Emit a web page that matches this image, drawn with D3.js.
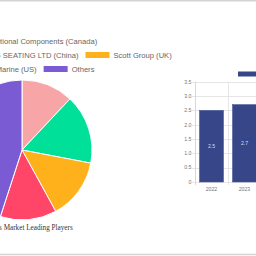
<!DOCTYPE html>
<html><head><meta charset="utf-8">
<script src="https://cdn.jsdelivr.net/npm/d3@7"></script>
<style>html,body{margin:0;padding:0;background:#fff;overflow:hidden}</style>
</head><body>
<svg id="c" width="256" height="256"></svg>
<script>
const playerNames = ["RCI Optional Components (Canada)", "GUANGZHOU HENGSHENG SEATING LTD (China)", "Scott Group (UK)", "Taco Marine (US)", "Others"];
const playerShares = [12, 16, 14, 13, 45];
const playerColors = ["#F8A5A7", "#00E098", "#FFB11C", "#FF4568", "#7A5BD3"];
const pieTitle = "Boat Seats Market Leading Players";

const years = ["2022", "2023"];
const marketValues = [2.5, 2.7];
const yTicks = [0, 0.5, 1.0, 1.5, 2.0, 2.5, 3.0, 3.5];
const barLegendLabel = "Market Size (Billion USD)";

const svg = d3.select("#c");
const W = 256, H = 256;

// page borders
svg.append("line").attr("x1",0).attr("x2",W).attr("y1",0.5).attr("y2",0.5).attr("stroke","#d4d4d4").attr("stroke-width",2);
svg.append("line").attr("x1",0).attr("x2",W).attr("y1",254.5).attr("y2",254.5).attr("stroke","#d4d4d4").attr("stroke-width",1.5);

// ---- Pie ----
const cx = 22, cy = 150, R = 70;
const pie = d3.pie().sort(null).value(d => d)(playerShares);
const arc = d3.arc().innerRadius(0).outerRadius(R);
const pg = svg.append("g").attr("transform", `translate(${cx},${cy})`);
pg.selectAll("path").data(pie).join("path")
  .attr("d", arc).attr("fill", (d,i) => playerColors[i])
  .attr("stroke", "#fff").attr("stroke-width", 1);

// legend (centered rows)
const rows = [[0],[1,2],[3,4]];
const rowY = [41, 55, 69];
const sw = 24, sh = 6, gap = 4, itemPad = 7;
const lg = svg.append("g");
rows.forEach((row, ri) => {
  const g = lg.append("g");
  let x = 0;
  row.forEach(i => {
    g.append("rect").attr("x", x).attr("y", rowY[ri]-sh/2).attr("width", sw).attr("height", sh).attr("fill", playerColors[i]);
    const t = g.append("text").attr("x", x+sw+gap).attr("y", rowY[ri]).attr("dy","0.35em")
      .attr("font-family","Liberation Sans, Arial, sans-serif").attr("font-size", 7.6).attr("fill","#666").text(playerNames[i]);
    x += sw + gap + t.node().getComputedTextLength() + itemPad;
  });
  const wRow = x - itemPad;
  g.attr("transform", `translate(${cx - wRow/2},0)`);
});

svg.append("text").attr("x", cx).attr("y", 227).attr("dy","0.35em").attr("text-anchor","middle")
  .attr("font-family","Liberation Serif, Times New Roman, serif").attr("font-size", 7.2).attr("fill","#333")
  .text(pieTitle);

// ---- Bar chart ----
const x0 = 195, yBase = 182, yTop = 81.7, step = 33;
const y = d3.scaleLinear().domain([0, 3.5]).range([yBase, yTop]);
const x = d3.scaleBand().domain(years).range([x0, x0 + step*years.length]).paddingInner(9/33).paddingOuter(4.5/33);

const grid = svg.append("g");
grid.selectAll("line.h").data(yTicks).join("line").attr("class","h")
  .attr("x1", x0-3).attr("x2", W).attr("y1", d => Math.round(y(d))+0.5).attr("y2", d => Math.round(y(d))+0.5)
  .attr("stroke","#e6e6e6").attr("stroke-width",1);
const vLines = [0, ...years.map((d,i)=>i+1)];
grid.selectAll("line.v").data(vLines).join("line").attr("class","v")
  .attr("x1", d => x0 + d*step + 0.5).attr("x2", d => x0 + d*step + 0.5)
  .attr("y1", yTop).attr("y2", yBase + 3)
  .attr("stroke", d => d===0 ? "#d8d8d8" : "#e6e6e6").attr("stroke-width",1);

svg.append("g").selectAll("text").data(yTicks).join("text")
  .attr("x", 191.5).attr("y", d => y(d)).attr("dy","0.35em").attr("text-anchor","end")
  .attr("font-family","Liberation Sans, Arial, sans-serif").attr("font-size", 5.2).attr("fill","#777")
  .text(d => d === 0 ? "0" : d.toFixed(1));

svg.append("g").selectAll("rect").data(marketValues).join("rect")
  .attr("x", (d,i) => x(years[i])).attr("width", x.bandwidth())
  .attr("y", d => y(d)).attr("height", d => yBase - y(d))
  .attr("fill", "#364689").attr("stroke","#4a5a9c").attr("stroke-width",0.6);

svg.append("g").selectAll("text").data(marketValues).join("text")
  .attr("x", (d,i) => x(years[i]) + x.bandwidth()/2).attr("y", d => (y(d)+yBase)/2).attr("dy","0.35em")
  .attr("text-anchor","middle").attr("font-family","Liberation Sans, Arial, sans-serif").attr("font-size",5.2).attr("fill","#dde")
  .text(d => d);

svg.append("g").selectAll("text").data(years).join("text")
  .attr("x", d => x(d) + x.bandwidth()/2).attr("y", 189).attr("dy","0.35em")
  .attr("text-anchor","middle").attr("font-family","Liberation Sans, Arial, sans-serif").attr("font-size",5.2).attr("fill","#777")
  .text(d => d);

// bar legend
svg.append("rect").attr("x", 238).attr("y", 71.5).attr("width", 24).attr("height", 5).attr("fill","#364689");
svg.append("text").attr("x", 266).attr("y", 74).attr("dy","0.35em").attr("font-family","Liberation Sans, Arial, sans-serif")
  .attr("font-size",7).attr("fill","#666").text(barLegendLabel);
</script>
</body></html>
